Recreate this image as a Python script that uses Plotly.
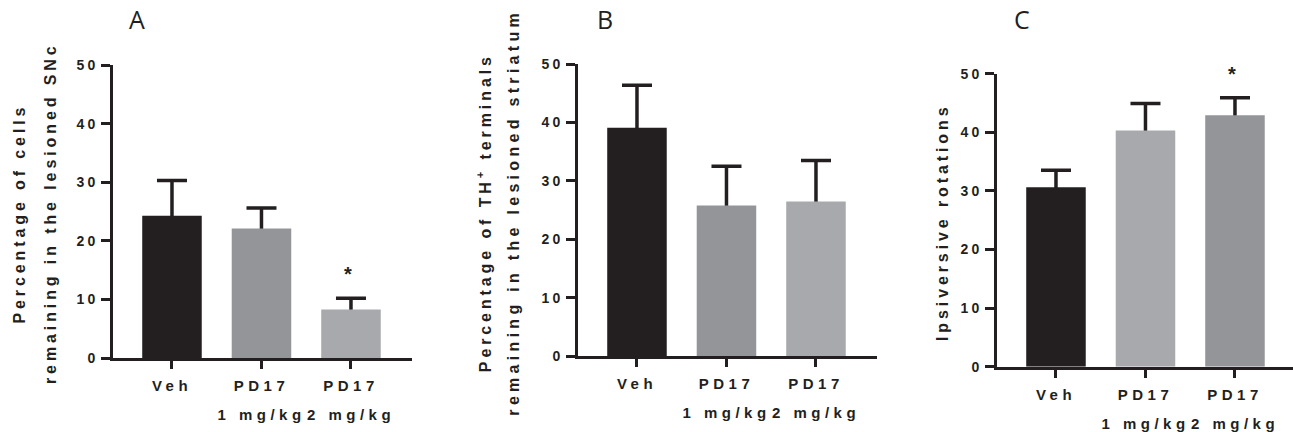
import plotly.graph_objects as go

# ---------------- data ----------------
categories = ["Veh", "PD17 1 mg/kg", "PD17 2 mg/kg"]
tick_row1 = ["Veh", "PD17", "PD17"]
tick_row2 = ["", "1 mg/kg", "2 mg/kg"]

a_mean = [24.3, 22.1, 8.3]
a_sem = [6.0, 3.5, 1.9]
b_mean = [39.1, 25.8, 26.5]
b_sem = [7.3, 6.7, 7.0]
c_mean = [30.6, 40.3, 42.9]
c_sem = [2.9, 4.6, 3.0]

y_ticks = [0, 10, 20, 30, 40, 50]

a_title = ["Percentage of cells", "remaining in the lesioned SNc"]
b_title = ["Percentage of TH<sup>+</sup> terminals", "remaining in the lesioned striatum"]
c_title = ["Ipsiversive rotations"]
panel_letters = ["A", "B", "C"]
significant = {"A": [2], "C": [2]}

# ---------------- style ----------------
W, H = 1293, 432
INK = "#231f20"
DARK = "#939598"
LIGHT = "#a7a9ac"
colors = {"A": [INK, DARK, LIGHT], "B": [INK, DARK, LIGHT], "C": [INK, LIGHT, DARK]}
FONT = "Liberation Sans, Arial, sans-serif"
HIDE_CAP = 0.6  # pushes the lower error-bar cap under the bar top

fig = go.Figure()

panels = [
    ("A", a_mean, a_sem, "x", "y", "x4", (113, 412), (60, 368)),
    ("B", b_mean, b_sem, "x2", "y2", "x5", (578, 877), (59, 366)),
    ("C", c_mean, c_sem, "x3", "y3", "x6", (997, 1293), (69, 377)),
]

cat_px = 89.5
for key, means, sems, xid, yid, oxid, (xl, xr), (yt, yb) in panels:
    tops = [m + s for m, s in zip(means, sems)]
    fig.add_trace(go.Bar(
        x=categories, y=means, xaxis=xid, yaxis=yid,
        marker=dict(color="rgba(0,0,0,0)", line=dict(width=0)),
        error_y=dict(type="data", symmetric=False, array=sems,
                     arrayminus=[HIDE_CAP] * len(sems),
                     color=INK, thickness=3.5, width=15),
        showlegend=False, hoverinfo="skip",
    ))
    fig.add_trace(go.Bar(
        x=categories, y=means, xaxis=xid, yaxis=yid,
        marker=dict(color=colors[key], line=dict(width=0)),
        showlegend=False, hoverinfo="x+y",
    ))
    fig.add_trace(go.Scatter(
        x=categories, y=means, xaxis=oxid, yaxis=yid, mode="markers",
        marker=dict(opacity=0), showlegend=False, hoverinfo="skip",
    ))
    first_center = xl + 0.659 * cat_px
    r0 = -0.659
    r1 = (xr - first_center) / cat_px
    xname = "xaxis" if xid == "x" else "xaxis" + xid[1:]
    yname = "yaxis" if yid == "y" else "yaxis" + yid[1:]
    oname = "xaxis" + oxid[1:]
    common_x = dict(type="category", range=[r0, r1], showgrid=False, zeroline=False,
                    tickfont=dict(family=FONT, size=15, color=INK, weight="bold"),
                    fixedrange=True)
    fig.layout[xname] = dict(
        domain=[xl / W, min(xr / W, 1.0)], anchor=yid,
        showline=True, linewidth=3, linecolor=INK,
        ticks="outside", ticklen=8, tickwidth=3, tickcolor=INK,
        tickvals=categories, ticktext=tick_row1, ticklabelstandoff=4, **common_x,
    )
    fig.layout[oname] = dict(
        overlaying=xid, anchor=yid, side="bottom", showline=False,
        ticks="outside", ticklen=8, tickwidth=0, tickcolor="rgba(0,0,0,0)",
        tickvals=categories[1:], ticktext=tick_row2[1:], ticklabelstandoff=35, **common_x,
    )
    fig.layout[yname] = dict(
        domain=[1 - yb / H, 1 - yt / H], anchor=xid, range=[0, 50],
        tickvals=y_ticks, showgrid=False, zeroline=False,
        showline=True, linewidth=3, linecolor=INK,
        ticks="outside", ticklen=9, tickwidth=3, tickcolor=INK,
        tickfont=dict(family=FONT, size=14, color=INK, weight="bold"),
        fixedrange=True,
    )
    for i in significant.get(key, []):
        fig.add_annotation(x=categories[i], y=tops[i], xref=xid, yref=yid,
                           text="*", showarrow=False, yanchor="middle", yshift=24, xshift=-3,
                           font=dict(family=FONT, size=20, color=INK, weight="bold"))

# panel letters
for letter, xc in zip(panel_letters, [137, 605, 1022]):
    fig.add_annotation(x=xc / W, y=1 - 12 / H, xref="paper", yref="paper", text=letter,
                       showarrow=False, xanchor="center", yanchor="middle",
                       font=dict(family="Open Sans, sans-serif", size=25, color=INK))

# y-axis titles (separate lines, spaced like the reference)
for lines, xs, yc in [(a_title, [19, 50], 216), (b_title, [484, 514], 215), (c_title, [942], 225)]:
    for txt, xc in zip(lines, xs):
        fig.add_annotation(x=xc / W, y=1 - yc / H, xref="paper", yref="paper", text=txt,
                           textangle=-90, showarrow=False, xanchor="center", yanchor="middle",
                           font=dict(family=FONT, size=16, color=INK, weight="bold"))

fig.update_layout(
    width=W, height=H, margin=dict(l=0, r=0, t=0, b=0),
    paper_bgcolor="white", plot_bgcolor="white",
    bargap=0.335, barmode="overlay", showlegend=False,
)

post = """
document.documentElement.style.margin = '0';
document.body.style.margin = '0';
document.body.style.padding = '0';
document.body.style.overflow = 'hidden';
var gd = document.getElementById('{plot_id}');
function spacing(){
  gd.querySelectorAll('g[class$="tick"] > text').forEach(function(t){
    var isY = (t.parentNode.getAttribute('class') || '').charAt(0) === 'y';
    t.style.letterSpacing = isY ? '3px' : '4.5px';
  });
  gd.querySelectorAll('text.annotation-text').forEach(function(t){
    var s = t.textContent;
    if (s.length > 2) {
      t.style.letterSpacing = (s.indexOf('striatum') >= 0) ? '4.3px' : '3.9px';
    }
  });
}
spacing();
gd.on('plotly_afterplot', spacing);
"""

fig.write_html("out.html", post_script=post, config={"displayModeBar": False})
